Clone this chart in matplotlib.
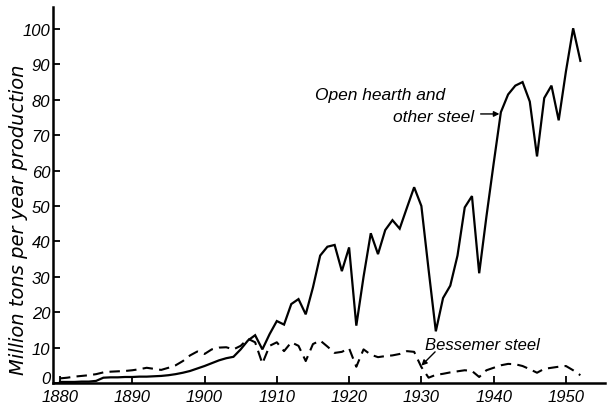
import matplotlib
matplotlib.use("Agg")
import matplotlib.pyplot as plt
import matplotlib.transforms as mtransforms
from matplotlib import font_manager

# Annual steel output, million tons
years = list(range(1880, 1953))

open_hearth = [
    0.3, 0.3, 0.3, 0.4, 0.4, 0.6, 1.5, 1.6, 1.6, 1.7,      # 1880-1889
    1.7, 1.8, 1.8, 1.9, 2.0, 2.2, 2.5, 2.9, 3.4, 4.1,      # 1890-1899
    4.8, 5.6, 6.4, 7.0, 7.4, 9.5, 12.0, 13.5, 9.5, 13.8,   # 1900-1909
    17.5, 16.5, 22.3, 23.7, 19.4, 27.0, 36.0, 38.5, 39.0, 31.6,  # 1910-1919
    38.3, 16.2, 30.0, 42.3, 36.4, 43.2, 46.0, 43.6, 49.5, 55.3,  # 1920-1929
    50.0, 32.0, 14.6, 24.0, 27.5, 36.0, 49.6, 52.8, 31.0, 47.0,  # 1930-1939
    62.0, 76.5, 81.5, 84.0, 85.0, 79.5, 64.0, 80.5, 84.0, 74.2,  # 1940-1949
    88.0, 100.2, 91.0,                                           # 1950-1952
]

bessemer = [
    1.3, 1.5, 1.8, 2.0, 2.2, 2.5, 3.0, 3.2, 3.3, 3.4,      # 1880-1889
    3.6, 3.9, 4.3, 4.0, 3.7, 4.3, 5.0, 6.2, 7.8, 8.9,      # 1890-1899
    8.2, 9.5, 10.0, 10.1, 9.5, 10.5, 12.5, 11.5, 5.5, 10.5,  # 1900-1909
    11.5, 9.0, 11.5, 10.5, 6.2, 11.0, 12.0, 10.3, 8.5, 8.8,  # 1910-1919
    9.8, 4.6, 9.5, 8.0, 7.3, 7.6, 7.8, 8.2, 9.0, 8.8,      # 1920-1929
    4.5, 1.5, 2.3, 2.6, 3.0, 3.3, 3.6, 3.4, 1.7, 3.6,      # 1930-1939
    4.3, 5.0, 5.4, 5.3, 4.8, 3.9, 2.9, 4.0, 4.3, 4.6,      # 1940-1949
    4.8, 3.6, 2.2,                                         # 1950-1952
]

x_ticks = [1880, 1890, 1900, 1910, 1920, 1930, 1940, 1950]
y_ticks = [0, 10, 20, 30, 40, 50, 60, 70, 80, 90, 100]

y_title = "Million tons per year production"
label_open = ["Open hearth and", "other steel"]
label_bess = "Bessemer steel"

installed = {f.name for f in font_manager.fontManager.ttflist}
if "Liberation Sans" in installed:
    family = ["Liberation Sans", "DejaVu Sans"]
else:
    family = ["DejaVu Sans"]
plt.rcParams["font.family"] = family

fig = plt.figure(figsize=(6.11, 4.10), dpi=100)
ax = fig.add_axes([0.0867, 0.0634, 0.9034, 0.917])

ax.plot(years, open_hearth, color="black", lw=1.6, solid_joinstyle="miter")
ax.plot(years, bessemer, color="black", lw=1.5, dashes=(5, 3))

ax.set_xlim(1879.03, 1955.4)
ax.set_ylim(0, 106.2)

for side in ("top", "right"):
    ax.spines[side].set_visible(False)
for side in ("left", "bottom"):
    ax.spines[side].set_linewidth(1.8)

ax.set_xticks(x_ticks)
ax.set_xticklabels([str(v) for v in x_ticks])
ax.set_yticks(y_ticks)
ax.set_yticklabels([str(v) for v in y_ticks])
ax.tick_params(axis="both", direction="in", length=5, width=1.3,
               labelsize=12, colors="black")
ax.tick_params(axis="x", pad=4)
ax.tick_params(axis="y", pad=2)
for lab in ax.get_xticklabels() + ax.get_yticklabels():
    lab.set_style("italic")

# lift the "0" label slightly so it clears the first year label
zero_label = ax.get_yticklabels()[0]
zero_label.set_transform(zero_label.get_transform() +
                         mtransforms.ScaledTranslation(0, 4 / 72, fig.dpi_scale_trans))

fig.text(0.030, 0.463, y_title, rotation=90, ha="center", va="center",
         fontsize=14, style="italic", family=["DejaVu Sans"])

ax.text(1915.3, 81.6, label_open[0], ha="left", va="center",
        fontsize=12.5, style="italic")
ax.text(1926.1, 75.4, label_open[1], ha="left", va="center",
        fontsize=12.5, style="italic")
ax.annotate("", xy=(1940.8, 76.0), xytext=(1938.2, 76.0),
            arrowprops=dict(arrowstyle="-|>", color="black", lw=1.0,
                            mutation_scale=8, shrinkA=0, shrinkB=0))

ax.text(1930.5, 11.0, label_bess, ha="left", va="center",
        fontsize=12.0, style="italic")
ax.annotate("", xy=(1930.0, 4.9), xytext=(1931.9, 8.8),
            arrowprops=dict(arrowstyle="-|>", color="black", lw=1.0,
                            mutation_scale=8, shrinkA=0, shrinkB=0))

fig.savefig("out.png", dpi=100, facecolor="white")
